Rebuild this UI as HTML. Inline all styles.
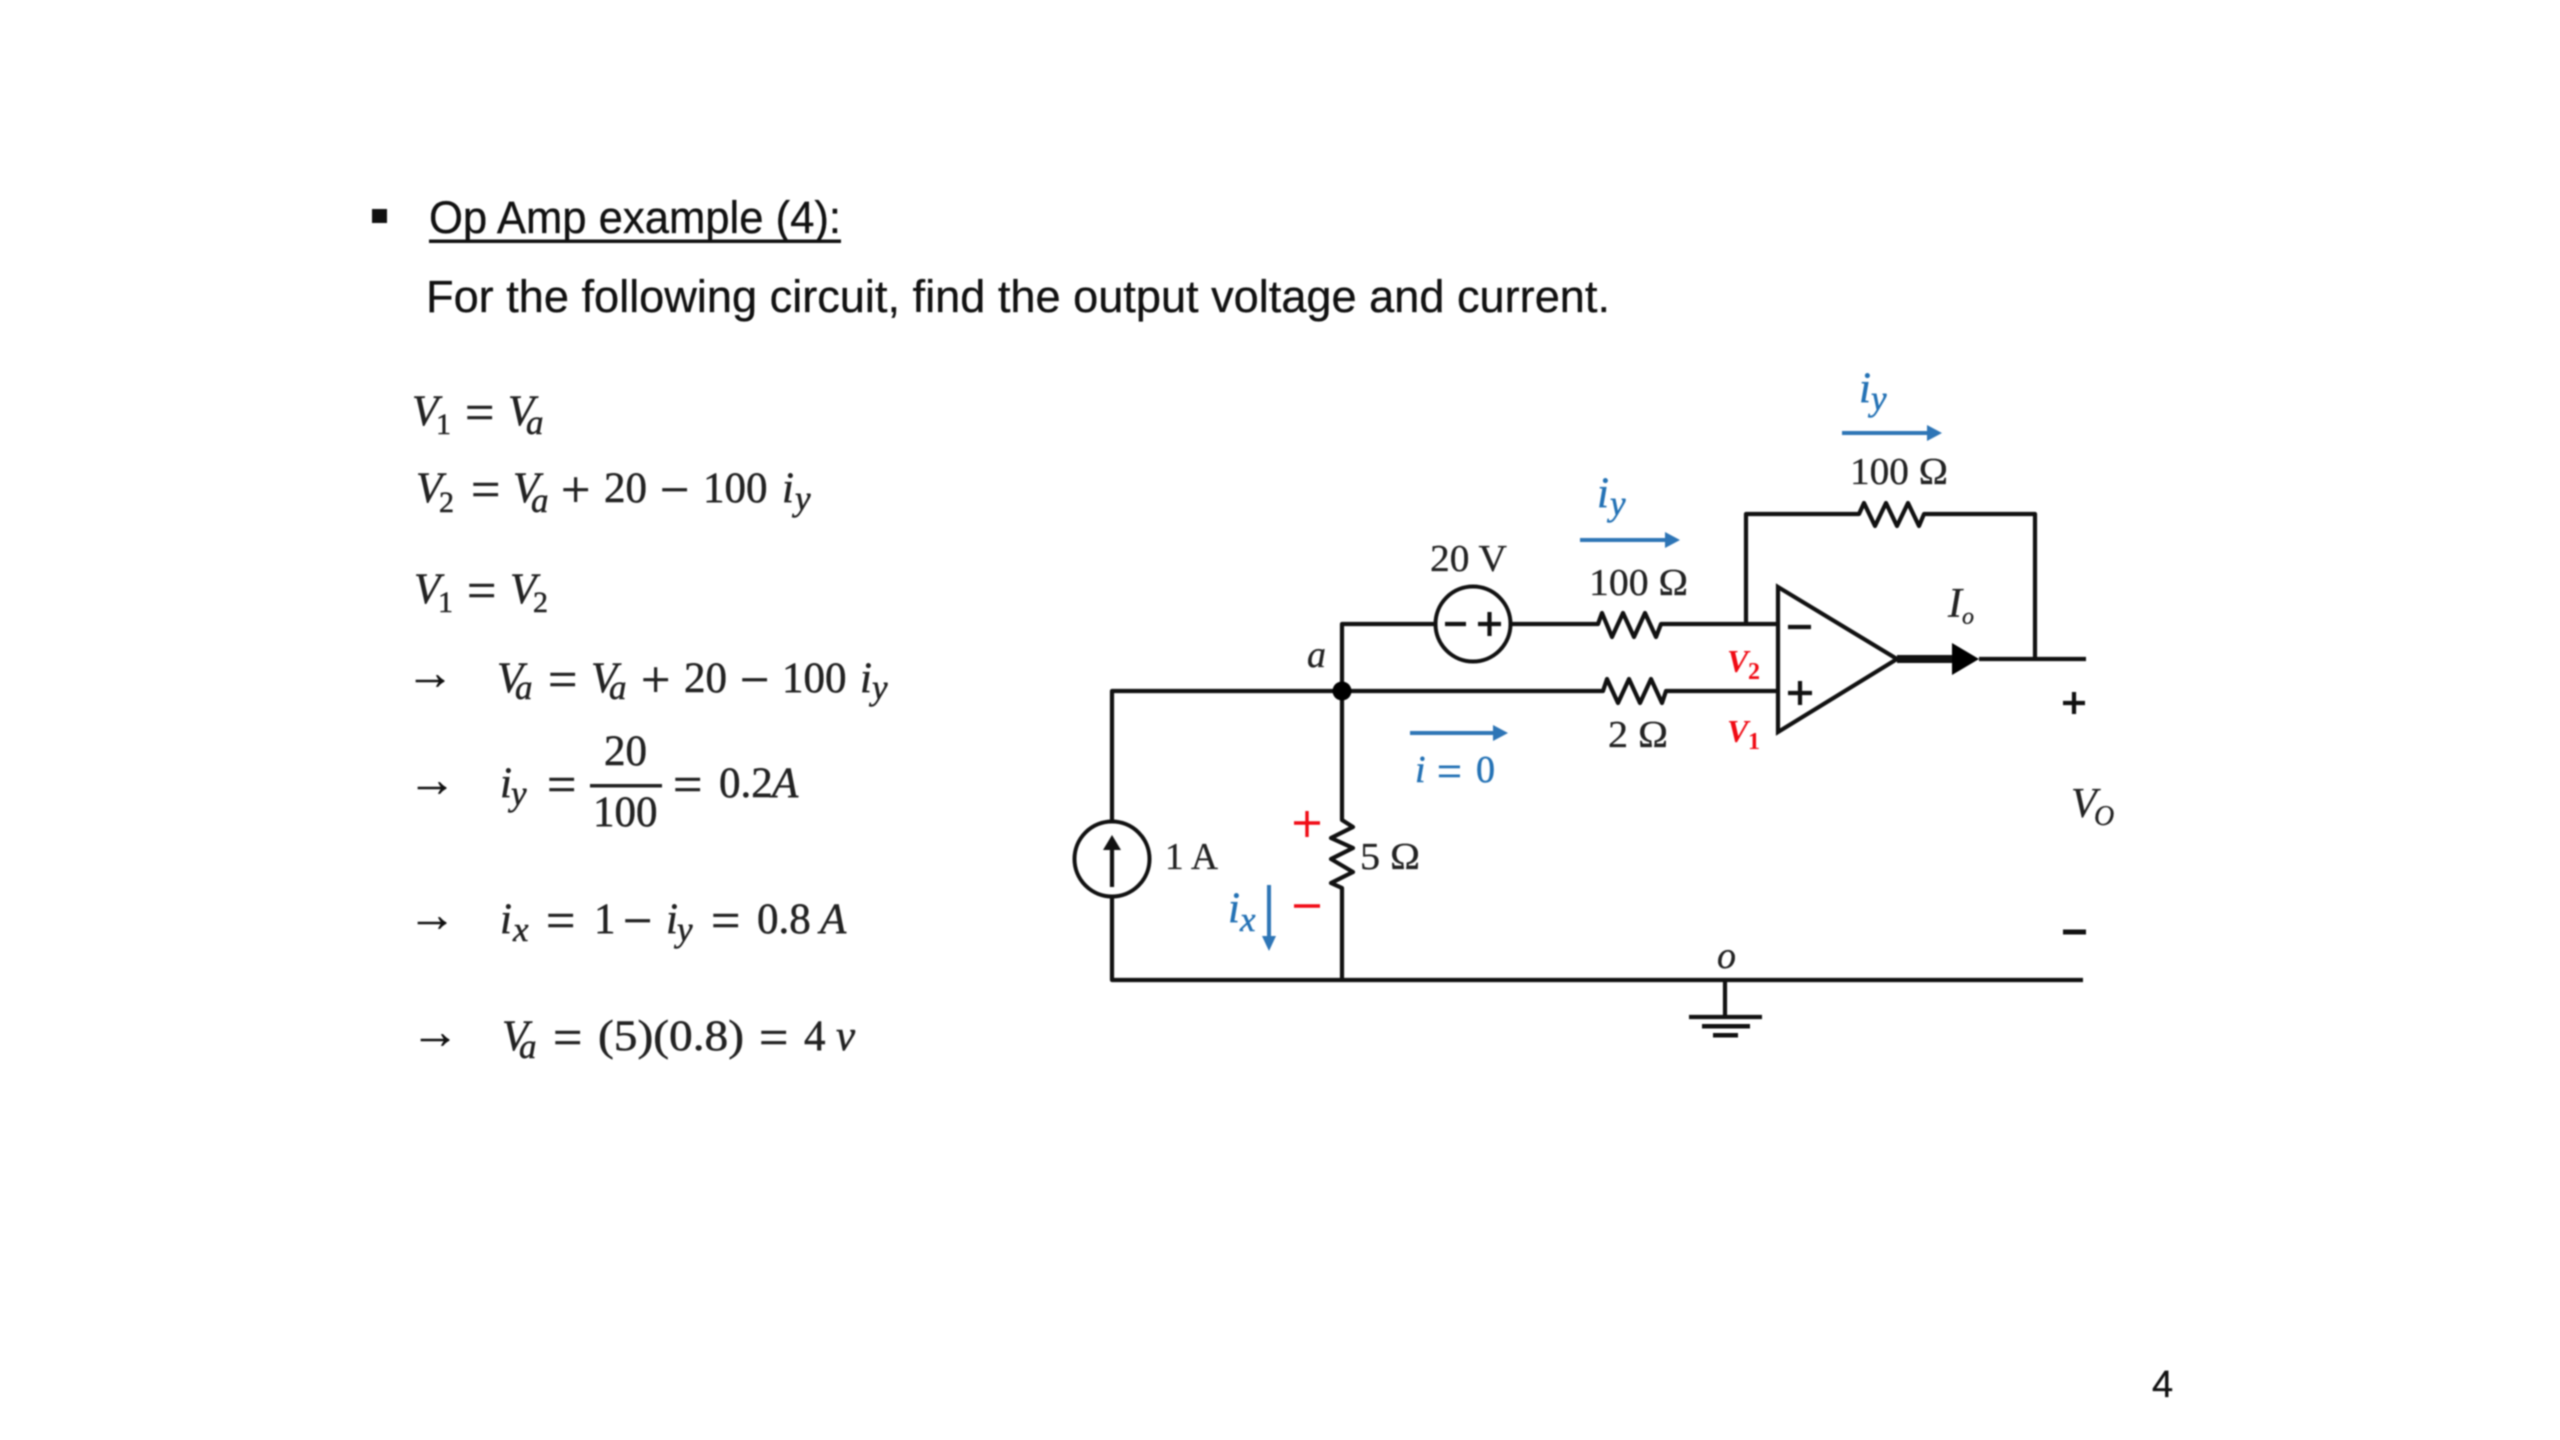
<!DOCTYPE html>
<html><head><meta charset="utf-8"><title>Op Amp example (4)</title>
<style>
html,body{margin:0;padding:0;background:#fff;width:2560px;height:1440px;overflow:hidden}
svg{display:block;filter:blur(0.8px)}
text{font-family:"Liberation Serif",serif;fill:#1a1a1a}
.s{font-family:"Liberation Sans",sans-serif;font-size:45px;fill:#111;stroke:#111;stroke-width:.3}
.m{font-size:43px;fill:#222;stroke:#222;stroke-width:.5}
.i{font-style:italic}
.sub{font-size:30px}
.sub.i{font-size:35px}
.o{font-size:52px;fill:#222;stroke:#222;stroke-width:.6}
.ar{font-size:48px;fill:#111;stroke:#111;stroke-width:.5}
.l{font-size:38px;fill:#222;stroke:#222;stroke-width:.3}
.b{fill:#2472b5;stroke:#2472b5}
.r{fill:#f00a14;font-weight:bold;font-style:italic}
.w{fill:none;stroke:#111;stroke-width:4.2;stroke-linejoin:round}
.bl{fill:none;stroke:#2e75b6;stroke-width:4}
</style></head><body>
<svg width="2560" height="1440" viewBox="0 0 2560 1440" xmlns="http://www.w3.org/2000/svg">
<!-- heading -->
<rect x="372" y="209" width="15" height="14" fill="#111"/>
<text class="s" x="429" y="233" textLength="412" lengthAdjust="spacingAndGlyphs">Op Amp example (4):</text>
<rect x="429" y="239.500" width="412" height="3.500" fill="#111"/>
<text class="s" x="426" y="312" textLength="1184" lengthAdjust="spacingAndGlyphs">For the following circuit, find the output voltage and current.</text>
<text class="s" x="2152" y="1397" style="font-size:38px">4</text>

<!-- line 1 -->
<text class="m i" x="412" y="425">V</text><text class="m sub" x="436" y="434">1</text><text class="o" x="465" y="430">=</text><text class="m i" x="508" y="425">V</text><text class="m sub i" x="526" y="434">a</text>
<!-- line 2 -->
<text class="m i" x="416" y="502">V</text><text class="m sub" x="439" y="512">2</text><text class="o" x="471" y="507">=</text><text class="m i" x="513" y="502">V</text><text class="m sub i" x="531" y="512">a</text><text class="o" x="561" y="507">+</text><text class="m" x="604" y="502">20</text><text class="o" x="660" y="507">−</text><text class="m" x="703" y="502">100</text><text class="m i" x="782" y="502">i</text><text class="m sub i" x="795" y="510">y</text>
<!-- line 3 -->
<text class="m i" x="414" y="603">V</text><text class="m sub" x="438" y="612">1</text><text class="o" x="467" y="608">=</text><text class="m i" x="510" y="603">V</text><text class="m sub" x="533" y="612">2</text>
<!-- line 4 -->
<text class="ar" x="406" y="689">→</text>
<text class="m i" x="497" y="692">V</text><text class="m sub i" x="515" y="699">a</text><text class="o" x="548" y="697">=</text><text class="m i" x="591" y="692">V</text><text class="m sub i" x="609" y="699">a</text><text class="o" x="641" y="697">+</text><text class="m" x="684" y="692">20</text><text class="o" x="740" y="697">−</text><text class="m" x="782" y="692">100</text><text class="m i" x="860" y="692">i</text><text class="m sub i" x="872" y="699">y</text>
<!-- line 5 -->
<text class="ar" x="408" y="796">→</text>
<text class="m i" x="500" y="797">i</text><text class="m sub i" x="511" y="805">y</text><text class="o" x="547" y="802">=</text><text class="m" x="604" y="765">20</text><rect x="590" y="784" width="72" height="3.500" fill="#222"/><text class="m" x="593" y="826">100</text><text class="o" x="673" y="802">=</text><text class="m" x="719" y="797">0.2</text><text class="m i" x="772" y="797">A</text>
<!-- line 6 -->
<text class="ar" x="408" y="931">→</text>
<text class="m i" x="500" y="933">i</text><text class="m sub i" x="513" y="941">x</text><text class="o" x="546" y="938">=</text><text class="m" x="594" y="933">1</text><text class="o" x="623" y="938">−</text><text class="m i" x="666" y="933">i</text><text class="m sub i" x="677" y="941">y</text><text class="o" x="711" y="938">=</text><text class="m" x="757" y="933">0.8</text><text class="m i" x="820" y="933">A</text>
<!-- line 7 -->
<text class="ar" x="411" y="1048">→</text>
<text class="m i" x="502" y="1050">V</text><text class="m sub i" x="519" y="1058">a</text><text class="o" x="553" y="1055">=</text><text class="m" x="598" y="1050" textLength="146" lengthAdjust="spacingAndGlyphs">(5)(0.8)</text><text class="o" x="759" y="1055">=</text><text class="m" x="804" y="1050">4</text><text class="m i" x="836" y="1050">v</text>

<!-- wires -->
<path class="w" d="M1435 624H1342V820L1353 827L1331 838L1353 848L1331 859L1353 872L1331 883L1342 888V980"/>
<path class="w" d="M1112 859V691H1342M1112 859V980H2083"/>
<path class="w" d="M1511 624H1598L1602 613L1612 637L1623 613L1634 637L1645 613L1656 637L1661 624H1778"/>
<path class="w" d="M1342 691H1603L1607 679L1618 703L1629 679L1640 703L1651 679L1662 703L1666 691H1778"/>
<path class="w" d="M1746 624V514H1859L1864 503L1875 526L1886 503L1897 526L1908 503L1919 526L1924 514H2035V659"/>
<circle cx="1342" cy="691" r="9.500" fill="#000"/>
<!-- 20 V source -->
<circle cx="1473" cy="624" r="37.500" fill="#fff" stroke="#111" stroke-width="4"/>
<path class="w" d="M1445 624H1466M1478 624H1501M1489.500 612V636"/>
<!-- 1 A source -->
<circle cx="1112" cy="859" r="37.500" fill="#fff" stroke="#111" stroke-width="4"/>
<path class="w" d="M1112 887V845"/>
<path d="M1112 835L1121 850H1103Z" fill="#111"/>
<!-- op amp -->
<path d="M1778 587L1897 659L1778 732Z" fill="#fff" stroke="#111" stroke-width="4.200" stroke-linejoin="miter"/>
<path class="w" d="M1788 627H1811M1788 693H1812M1800 681V705"/>
<path d="M1897 655H1955V663H1897Z" fill="#111"/>
<path d="M1952 643L1979 659L1952 675Z" fill="#000"/>
<path class="w" d="M1979 659H2086"/>
<!-- output signs -->
<path class="w" d="M2063 703H2085M2074 692V714"/>
<path d="M2063 929.500H2086V934.500H2063Z" fill="#111"/>
<!-- ground -->
<path class="w" d="M1725 980V1017M1689 1017H1762"/>
<path d="M1702 1024H1750V1028.500H1702ZM1713 1033H1738V1037.500H1713Z" fill="#111"/>
<!-- blue arrows -->
<path class="bl" d="M1842 433H1930"/><path d="M1927 425L1942 433L1927 441Z" fill="#2e75b6"/>
<path class="bl" d="M1580 540H1668"/><path d="M1665 532L1680 540L1665 548Z" fill="#2e75b6"/>
<path class="bl" d="M1410 733H1496"/><path d="M1493 725L1508 733L1493 741Z" fill="#2e75b6"/>
<path class="bl" d="M1269 885V940"/><path d="M1262 936L1269 951L1276 936Z" fill="#2e75b6"/>
<!-- blue labels -->
<text class="m i b" x="1859" y="402">i</text><text class="m sub i b" x="1871" y="410">y</text>
<text class="m i b" x="1597" y="507">i</text><text class="m sub i b" x="1610" y="515">y</text>
<text class="i m b" x="1415" y="782" style="font-size:38px">i</text><text class="o b" x="1437" y="786" style="font-size:44px">=</text><text class="m b" x="1476" y="782" style="font-size:38px">0</text>
<text class="m i b" x="1228" y="922">i</text><text class="m sub i b" x="1240" y="931">x</text>
<!-- red -->
<path d="M1294 823H1320M1307 811V837M1294 906H1320" fill="none" stroke="#f00a14" stroke-width="3.400"/>
<text class="r" x="1727" y="672" style="font-size:32px">V</text><text class="r" x="1748" y="679" style="font-size:24px;font-style:normal">2</text>
<text class="r" x="1727" y="742" style="font-size:32px">V</text><text class="r" x="1748" y="749" style="font-size:24px;font-style:normal">1</text>
<!-- labels -->
<text class="l" x="1850" y="484" textLength="98" lengthAdjust="spacingAndGlyphs">100 Ω</text>
<text class="l" x="1589" y="595" textLength="99" lengthAdjust="spacingAndGlyphs">100 Ω</text>
<text class="l" x="1608" y="747" textLength="60" lengthAdjust="spacingAndGlyphs">2 Ω</text>
<text class="l" x="1430" y="571" textLength="77" lengthAdjust="spacingAndGlyphs">20 V</text>
<text class="l i" x="1307" y="667">a</text>
<text class="l" x="1165" y="869" textLength="53" lengthAdjust="spacingAndGlyphs">1 A</text>
<text class="l" x="1360" y="869" textLength="60" lengthAdjust="spacingAndGlyphs">5 Ω</text>
<text class="l i" x="1948" y="617" style="font-size:42px">I</text><text class="l i" x="1962" y="624" style="font-size:24px">o</text>
<text class="l i" x="2071" y="817" style="font-size:42px">V</text><text class="l i" x="2094" y="825" style="font-size:28px">O</text>
<text class="l i" x="1717" y="968" style="font-size:38px">o</text>
</svg>
</body></html>
